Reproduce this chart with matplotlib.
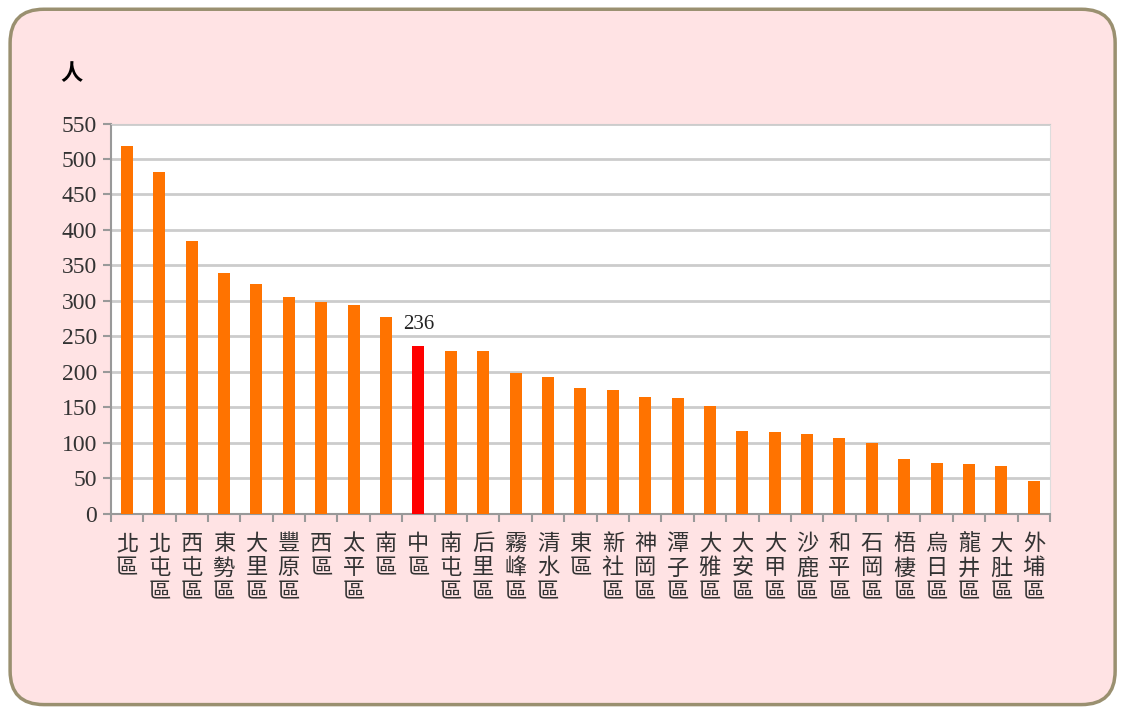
import matplotlib.pyplot as plt
from matplotlib.patches import FancyBboxPatch

districts = ["北區", "北屯區", "西屯區", "東勢區", "大里區", "豐原區", "西區", "太平區",
             "南區", "中區", "南屯區", "后里區", "霧峰區", "清水區", "東區", "新社區",
             "神岡區", "潭子區", "大雅區", "大安區", "大甲區", "沙鹿區", "和平區", "石岡區",
             "梧棲區", "烏日區", "龍井區", "大肚區", "外埔區"]
people = [518, 481, 384, 340, 324, 306, 298, 294, 278, 236, 229, 229, 198, 193, 177,
          175, 165, 163, 152, 117, 115, 112, 107, 100, 78, 72, 71, 68, 46]
highlight = "中區"
yticks = list(range(0, 551, 50))

plt.rcParams['font.family'] = ['Noto Sans CJK TC', 'DejaVu Sans']

fig = plt.figure(figsize=(11.23, 7.11), dpi=100)
fig.patch.set_facecolor("white")

# rounded pink frame behind the chart
frame = FancyBboxPatch((0.009, 0.009), 0.984, 0.978, transform=fig.transFigure,
                       boxstyle="round,pad=0,rounding_size=0.03",
                       facecolor="#FFE3E4", edgecolor="#9A9070", linewidth=2.5,
                       mutation_aspect=1123 / 711, zorder=-5)
fig.patches.append(frame)

ax = fig.add_axes([0.0986, 0.2771, 0.8364, 0.5492])
ax.set_zorder(5)
ax.set_facecolor("white")

x = list(range(len(districts)))
colors = ["#FF0000" if d == highlight else "#FF7300" for d in districts]
ax.bar(x, people, width=0.37, color=colors, zorder=3)

hi = districts.index(highlight)
ax.text(hi, people[hi] + 18, str(people[hi]), ha="center", va="bottom",
        fontsize=15, family="Liberation Serif", color="#222222")

ax.set_xlim(-0.5, len(districts) - 0.5)
ax.set_ylim(0, 550)
ax.set_yticks(yticks)
ax.set_yticklabels([str(v) for v in yticks], family="Liberation Serif", fontsize=17,
                   color="#333333")
ax.yaxis.grid(True, color="#CCCCCC", linewidth=2, zorder=0)
ax.set_axisbelow(True)

# district names stacked vertically
ax.set_xticks(x)
ax.set_xticklabels(["\n".join(d) for d in districts], fontsize=16, linespacing=1.08,
                   va="top", color="#333333")
ax.set_xticks([i - 0.5 for i in range(len(districts) + 1)], minor=True)
ax.tick_params(axis="x", which="major", length=0, pad=13)
ax.tick_params(axis="x", which="minor", length=6, width=1.5, color="#999999", direction="out")
ax.tick_params(axis="y", length=6, width=1.5, color="#999999", pad=4)

ax.spines["top"].set_color("#CCCCCC")
ax.spines["right"].set_color("#DDDDDD")
for side in ["left", "bottom"]:
    ax.spines[side].set_color("#999999")
    ax.spines[side].set_linewidth(1.5)

fig.text(0.064, 0.896, "人", fontsize=16, ha="center", va="center", weight="bold", zorder=6)

fig.savefig("out.png", dpi=100)
